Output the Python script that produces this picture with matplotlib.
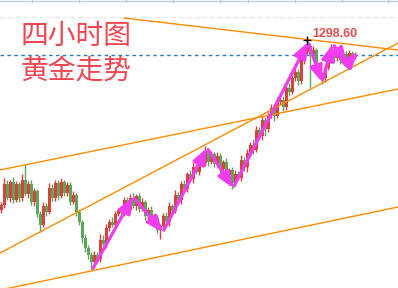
import matplotlib
matplotlib.use("Agg")
import matplotlib.pyplot as plt
from matplotlib.patches import FancyArrowPatch
import numpy as np

# ---------------- data ----------------
first_open = 1256.1
closes = [
    1257.4, 1262.6, 1259.1, 1263.1, 1258.6, 1262.6, 1259.1, 1263.6, 1260.1, 1262.6,
    1258.1, 1260.9, 1255.1, 1252.4, 1257.1, 1255.6, 1261.6, 1259.1, 1262.9, 1259.6,
    1263.1, 1260.4, 1262.4, 1258.1, 1259.9, 1255.6, 1253.1, 1249.1, 1246.6, 1244.9,
    1243.1, 1244.9, 1243.9, 1248.6, 1247.6, 1251.6, 1253.1, 1252.4, 1255.1, 1256.1,
    1255.4, 1258.6, 1256.1, 1259.1, 1257.1, 1259.6, 1256.4, 1258.1, 1254.6, 1256.1,
    1252.9, 1254.1, 1251.1, 1252.1, 1254.6, 1253.1, 1257.1, 1255.9, 1259.9, 1258.6,
    1262.6, 1261.4, 1265.1, 1263.9, 1266.9, 1265.6, 1269.1, 1267.9, 1270.9, 1268.1,
    1270.1, 1267.6, 1269.6, 1266.4, 1268.1, 1264.9, 1266.1, 1262.9, 1265.1, 1264.1,
    1268.6, 1266.9, 1270.4, 1272.4, 1271.1, 1276.1, 1274.6, 1278.6, 1276.4, 1279.9,
    1281.6, 1279.6, 1283.1, 1283.6, 1281.9, 1286.6, 1285.6, 1289.1, 1290.6, 1288.4,
    1293.6, 1295.6, 1297.1, 1294.9, 1296.1, 1292.1, 1290.1, 1289.1, 1291.6, 1294.1,
    1296.1, 1294.1, 1296.1, 1293.6, 1295.1, 1293.9, 1295.4, 1294.4, 1294.9,
]
up_wick = [
    0.8, 1.5, 1.0, 0.6, 1.2, 0.8, 0.5, 1.4, 4.0, 0.7,
    0.9, 0.6, 0.5, 0.8, 1.0, 0.7, 1.2, 0.9, 0.6, 0.8,
    1.0, 0.5, 0.7, 0.6, 0.9, 0.5, 0.8, 0.6, 1.0, 0.7,
    0.8, 1.0, 0.6, 1.5, 1.2, 0.9, 0.7, 1.3, 0.8, 0.6,
    1.0, 0.8, 0.7, 0.9, 1.2, 0.6, 0.8, 1.0, 0.5, 0.7,
    0.9, 0.6, 0.8, 0.5, 0.7, 1.0, 0.9, 0.6, 1.2, 0.8,
    0.7, 1.1, 0.6, 0.9, 1.3, 0.8, 0.6, 1.0, 1.2, 0.7,
    0.8, 0.6, 1.0, 0.7, 0.5, 0.9, 0.6, 0.8, 1.0, 0.7,
    1.2, 0.8, 1.0, 0.6, 1.4, 0.9, 0.7, 1.1, 0.8, 0.6,
    1.0, 0.7, 1.2, 0.8, 0.9, 0.6, 1.3, 0.8, 1.0, 0.7,
    0.9, 0.8, 1.5, 0.7, 1.0, 0.6, 0.8, 0.5, 0.9, 0.7,
    1.5, 0.8, 0.6, 0.9, 0.5, 0.7, 0.6, 0.5, 0.6,
]
dn_wick = [
    0.7, 0.9, 0.6, 1.0, 0.8, 0.5, 1.1, 0.7, 0.6, 0.9,
    0.8, 1.0, 0.7, 1.8, 0.6, 0.9, 0.5, 0.8, 0.7, 1.0,
    0.6, 0.8, 0.9, 0.7, 0.5, 1.0, 0.8, 1.2, 0.9, 1.0,
    2.0, 0.7, 1.0, 0.8, 0.6, 0.9, 0.7, 0.5, 0.8, 0.6,
    0.7, 0.9, 0.6, 0.8, 0.5, 1.0, 0.7, 0.6, 0.9, 0.8,
    0.6, 1.0, 0.7, 2.2, 0.8, 0.6, 0.9, 0.7, 0.5, 0.8,
    0.9, 0.6, 0.8, 0.7, 1.0, 0.5, 0.8, 0.6, 0.7, 0.9,
    0.6, 0.8, 0.7, 1.0, 0.6, 0.9, 0.8, 1.5, 0.7, 0.6,
    0.8, 1.0, 1.2, 0.7, 0.9, 0.6, 0.8, 1.0, 1.8, 0.7,
    0.9, 1.2, 0.6, 0.8, 1.0, 0.7, 0.9, 0.6, 0.8, 1.0,
    0.7, 0.9, 0.6, 8.3, 0.8, 1.0, 0.7, 1.5, 0.9, 0.6,
    0.8, 1.0, 0.7, 0.9, 0.6, 0.8, 0.7, 0.6, 0.5,
]

peak_index = 102
peak_price = 1298.60
peak_label = "1298.60"
title_lines = ["四小时图", "黄金走势"]

# trend lines: (bar0, price0, bar1, price1)
trend_lines = [
    (40.8, 1304.1, 132.2, 1296.1),
    (-0.5, 1245.35, 132.2, 1297.85),
    (-0.5, 1266.1, 132.2, 1286.35),
    (-0.5, 1236.1, 132.2, 1256.85),
]
blue_level = 1294.85
grey_level = 1304.35

# magenta arrow waypoints
arrow_bar = [30.2, 43.8, 53.8, 68.5, 77.2, 102.2, 106.8, 110.5, 115.2, 118.8]
arrow_price = [1241.1, 1259.4, 1250.6, 1271.6, 1261.6, 1298.1, 1288.1, 1297.6, 1292.6, 1295.6]

top_grid_bars = [10.2, 25.8, 41.5, 57.2, 72.8, 82.2, 97.8, 113.5, 128.8]

# ---------------- drawing ----------------
fig = plt.figure(figsize=(3.98, 2.88), dpi=100)
ax = fig.add_axes([0, 0, 1, 1])
ax.set_xlim(-0.5, 132.17)
ax.set_ylim(1236.6, 1308.6)
ax.axis("off")

closes_a = np.array(closes)
opens_a = np.concatenate([[first_open], closes_a[:-1]])
x = np.arange(len(closes_a))
body_top = np.maximum(opens_a, closes_a)
body_bot = np.minimum(opens_a, closes_a)
highs = body_top + np.array(up_wick)
lows = body_bot - np.array(dn_wick)
up = closes_a >= opens_a
colors = np.where(up, "#d8413c", "#5ea55a")

ax.vlines(x, lows, highs, colors=colors, linewidth=1.0, zorder=3)
heights = np.maximum(body_top - body_bot, 0.4)
ax.bar(x, heights, bottom=body_bot, width=0.72, color=colors, linewidth=0, zorder=3)

# top grid
ax.axhline(1308.45, color="#c9cdd6", lw=1.0, zorder=1)
for b in top_grid_bars:
    ax.plot([b, b], [1308.6, 1308.0], color="#c9cdd6", lw=1.0, zorder=1)

ax.axhline(grey_level, color="#e4e4e4", lw=0.8, ls=(0, (4, 3)), zorder=1)
ax.axhline(blue_level, color="#2a74d6", lw=1.0, ls=(0, (2.5, 2.5)), zorder=2)

for (b0, p0, b1, p1) in trend_lines:
    ax.plot([b0, b1], [p0, p1], color="#ff8c00", lw=1.0, zorder=4)

for k in range(len(arrow_bar) - 1):
    arr = FancyArrowPatch((arrow_bar[k], arrow_price[k]),
                          (arrow_bar[k + 1], arrow_price[k + 1]),
                          arrowstyle="-|>,head_length=0.8,head_width=0.32",
                          mutation_scale=12, color="#f23cf2", lw=2.3,
                          shrinkA=1.5, shrinkB=0, zorder=6)
    ax.add_patch(arr)

ax.plot([peak_index], [peak_price], marker="+", color="black",
        markersize=6, mew=1.0, zorder=7)
ax.text(peak_index + 1.7, peak_price + 0.7, peak_label, color="#de4f4f",
        fontsize=9, fontweight="bold", family="Liberation Sans",
        ha="left", va="baseline", zorder=8)

for j, line in enumerate(title_lines):
    ax.text(6.3, 1303.4 - j * 9.0, line, color="#ef4651",
            fontsize=20, fontweight="light",
            family=["Noto Sans CJK SC", "DejaVu Sans"],
            ha="left", va="top", zorder=8)

fig.savefig("out.png", dpi=100)
